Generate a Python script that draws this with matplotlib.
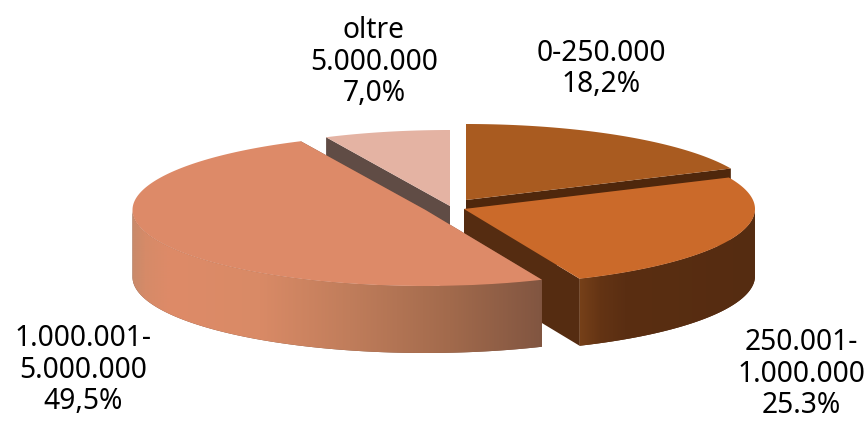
import numpy as np
import matplotlib
matplotlib.use("Agg")
import matplotlib.pyplot as plt
from matplotlib.colors import to_rgb
from matplotlib.patches import Polygon

# data
categories = ["0-250.000", "250.001-\n1.000.000", "1.000.001-\n5.000.000", "oltre\n5.000.000"]
values = [18.2, 25.3, 49.5, 7.0]
value_labels = ["18,2%", "25.3%", "49,5%", "7,0%"]

# style (pixels of the picture)
top_colors = ["#a95b20", "#cb6a2a", "#dd8a68", "#e4b3a3"]
face_colors = ["#4f270c", "#552c11", "#7f5440", "#604c45"]
centers = [(466, 200), (464, 209), (425.5, 210), (450, 206)]
semi_x = [291, 291, 293, 291]
label_pos = [(601, 69), (801, 374), (83, 370), (374, 62)]
B, DEPTH = 76, 67

# side gradients, x pixel -> colour
grad_slice2 = ([575, 600, 625, 760], ["#7a431a", "#643414", "#5a2e12", "#552c11"])
grad_slice3 = ([128, 145, 170, 260, 350, 450, 548],
               ["#c48a6c", "#d68a68", "#de8b68", "#d98a66", "#c07d5b", "#a26a4c", "#7f5440"])

fig = plt.figure(figsize=(8.68, 4.21), dpi=100)
ax = fig.add_axes([0, 0, 1, 1])
ax.set_xlim(0, 868)
ax.set_ylim(421, 0)
ax.axis("off")


def rim(c, a, t):
    t = np.radians(t)
    return np.column_stack([c[0] + a * np.sin(t), c[1] - B * np.cos(t)])


def gradient_side(pts, grad, z):
    xs = np.arange(grad[0][0], grad[0][-1] + 1)
    rgb = np.array([to_rgb(g) for g in grad[1]])
    row = np.stack([np.interp(xs, grad[0], rgb[:, i]) for i in range(3)], axis=1)[None, :, :]
    ymin, ymax = pts[:, 1].min(), pts[:, 1].max()
    # flat colour below the image so the clip edge leaves no seam
    ax.add_patch(Polygon(pts, closed=True, fc=grad[1][-1], ec="none", zorder=z))
    im = ax.imshow(row, extent=(xs[0], xs[-1], ymax, ymin), aspect="auto", zorder=z + 0.5,
                   interpolation="bilinear")
    im.set_clip_path(Polygon(pts, closed=True, transform=ax.transData))


edges = np.cumsum([0] + values) * 3.6
order = [3, 0, 1, 2]  # back to front
for z, i in enumerate(order):
    c = np.array(centers[i], dtype=float)
    a = semi_x[i]
    t0, t1 = edges[i], edges[i + 1]
    arc = rim(c, a, np.linspace(t0, t1, 200))
    zb = 10 * z
    down = np.array([0, DEPTH])
    # cut faces
    for p in (arc[0], arc[-1]):
        ax.add_patch(Polygon([c, p, p + down, c + down], closed=True, fc=face_colors[i],
                             ec="none", zorder=zb + 1))
    # outer side, only the part of the rim facing us
    lo, hi = max(t0, 90), min(t1, 270)
    if hi > lo:
        front = rim(c, a, np.linspace(lo, hi, 200))
        pts = np.vstack([front, (front + down)[::-1]])
        if i == 1:
            gradient_side(pts, grad_slice2, zb + 2)
        elif i == 2:
            gradient_side(pts, grad_slice3, zb + 2)
        else:
            ax.add_patch(Polygon(pts, closed=True, fc=face_colors[i], ec="none", zorder=zb + 2))
    # top
    ax.add_patch(Polygon(np.vstack([c, arc]), closed=True, fc=top_colors[i], ec="none", zorder=zb + 3))

ax.set_xlim(0, 868)
ax.set_ylim(421, 0)

for name, lab, pos in zip(categories, value_labels, label_pos):
    ax.text(pos[0], pos[1], name + "\n" + lab, ha="center", va="center", family="Noto Sans",
            fontsize=20.3, color="black", linespacing=1.13, zorder=100)

fig.savefig("out.png", dpi=100, facecolor="white")
